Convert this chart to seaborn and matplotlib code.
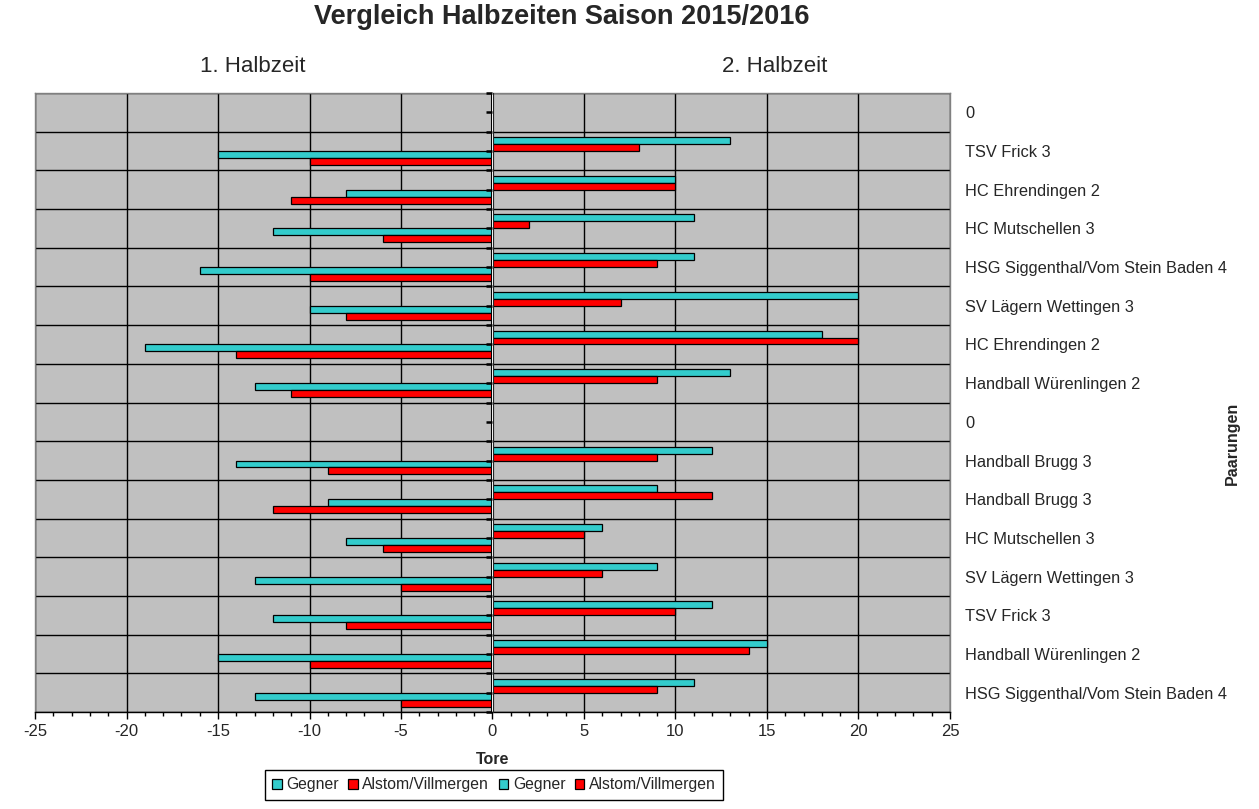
import numpy as np
import pandas as pd
from matplotlib import pyplot as plt
import seaborn as sns

# Paarungen von oben nach unten
paarungen = ['0', 'TSV Frick 3', 'HC Ehrendingen 2', 'HC Mutschellen 3',
             'HSG Siggenthal/Vom Stein Baden 4', 'SV Lägern Wettingen 3',
             'HC Ehrendingen 2', 'Handball Würenlingen 2', '0',
             'Handball Brugg 3', 'Handball Brugg 3', 'HC Mutschellen 3',
             'SV Lägern Wettingen 3', 'TSV Frick 3', 'Handball Würenlingen 2',
             'HSG Siggenthal/Vom Stein Baden 4']

# Tore 1. Halbzeit (links, negativ dargestellt)
h1_gegner = [np.nan, 15, 8, 12, 16, 10, 19, 13, np.nan, 14, 9, 8, 13, 12, 15, 13]
h1_alstom = [np.nan, 10, 11, 6, 10, 8, 14, 11, np.nan, 9, 12, 6, 5, 8, 10, 5]

# Tore 2. Halbzeit (rechts)
h2_gegner = [np.nan, 13, 10, 11, 11, 20, 18, 13, np.nan, 12, 9, 6, 9, 12, 15, 11]
h2_alstom = [np.nan, 8, 10, 2, 9, 7, 20, 9, np.nan, 9, 12, 5, 6, 10, 14, 9]

serien = ['2. Gegner', '2. Alstom', '1. Gegner', '1. Alstom']
legende = ['Gegner', 'Alstom/Villmergen', 'Gegner', 'Alstom/Villmergen']
farben = ['#33CCCC', '#FF0000', '#33CCCC', '#FF0000']
x_ticks = list(range(-25, 26, 5))


def main():
    sns.set_style('ticks')
    plt.rcParams['font.family'] = ['Liberation Sans', 'DejaVu Sans']
    plt.rcParams['axes.unicode_minus'] = False

    keys = [f'p{i}' for i in range(len(paarungen))]
    rows = []
    for i, k in enumerate(keys):
        rows.append((k, serien[0], h2_gegner[i]))
        rows.append((k, serien[1], h2_alstom[i]))
        rows.append((k, serien[2], -h1_gegner[i]))
        rows.append((k, serien[3], -h1_alstom[i]))
    ds = pd.DataFrame(rows, columns=['key', 'serie', 'tore'])

    fig = plt.figure(figsize=(12.59, 8.09), dpi=100)
    ax = fig.add_axes([35 / 1259, 1 - 712 / 809, 915 / 1259, 619 / 809])
    ax.set_facecolor('#C0C0C0')

    sns.barplot(data=ds, x='tore', y='key', hue='serie', order=keys,
                hue_order=serien, palette=farben, orient='h', width=0.72,
                errorbar=None, edgecolor='black', linewidth=0.9,
                saturation=1, ax=ax)

    ax.set_xlim(-25, 25)
    ax.set_ylim(len(keys) - 0.5, -0.5)
    ax.set_xticks(x_ticks)
    ax.set_xticks(range(-25, 26), minor=True)
    ax.tick_params(axis='x', which='major', length=5, width=1, labelsize=12,
                   color='black', direction='out', pad=4)
    ax.tick_params(axis='x', which='minor', length=3, width=1, color='black',
                   direction='out')

    # Kategorien rechts beschriften
    ax.yaxis.tick_right()
    ax.set_yticks(range(len(keys)))
    ax.set_yticklabels(paarungen)
    ax.set_yticks(np.arange(-0.5, len(keys), 1), minor=True)
    ax.tick_params(axis='y', which='both', length=0, labelsize=11.8, pad=11)

    ax.grid(axis='x', which='major', color='black', linewidth=1)
    ax.grid(axis='y', which='minor', color='black', linewidth=1)
    ax.set_axisbelow(True)

    for s in ['top', 'right', 'left']:
        ax.spines[s].set_color('#808080')
        ax.spines[s].set_linewidth(1)
    ax.spines['bottom'].set_color('black')
    ax.spines['bottom'].set_linewidth(1)

    # Mittelachse bei 0
    ax.axvline(0, color='black', linewidth=2.2, zorder=5)
    mitte = ax.secondary_yaxis(0.5)
    mitte.set_yticks(np.arange(-0.5, len(keys), 0.5))
    mitte.set_yticklabels([])
    mitte.tick_params(axis='y', left=True, right=False, direction='out',
                      length=4, width=1.8, color='black')
    mitte.spines['left'].set_linewidth(2.2)
    mitte.spines['left'].set_color('black')
    mitte.set_zorder(6)

    ax.set_xlabel('Tore', fontsize=11.5, fontweight='bold', labelpad=9)
    ax.set_ylabel('')

    handles, _ = ax.get_legend_handles_labels()
    ax.get_legend().remove()
    fig.legend(handles, legende, loc='center', ncol=4,
               bbox_to_anchor=(494 / 1259, 1 - 785 / 809), fontsize=11.3,
               frameon=True, fancybox=False, edgecolor='black',
               handlelength=0.6, handleheight=0.6, handletextpad=0.3,
               columnspacing=0.6, borderpad=0.45, framealpha=1)

    fig.suptitle('Vergleich Halbzeiten Saison 2015/2016', x=562 / 1259,
                 y=1 - 17 / 809, va='center', fontsize=19.5, fontweight='bold')
    fig.text(253 / 1259, 1 - 66 / 809, '1. Halbzeit', ha='center',
             va='center', fontsize=16)
    fig.text(775 / 1259, 1 - 66 / 809, '2. Halbzeit', ha='center',
             va='center', fontsize=16)
    fig.text(1232 / 1259, 1 - 443 / 809, 'Paarungen', rotation=90,
             ha='center', va='center', fontsize=11.5, fontweight='bold')

    fig.savefig('out.png', dpi=100)


if __name__ == '__main__':
    main()
